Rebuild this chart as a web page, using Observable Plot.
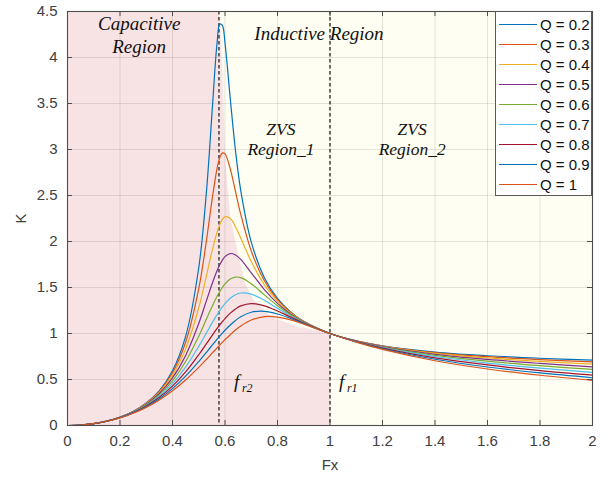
<!DOCTYPE html>
<html>
<head>
<meta charset="utf-8">
<script src="https://cdn.jsdelivr.net/npm/d3@7"></script>
<script src="https://cdn.jsdelivr.net/npm/@observablehq/plot@0.6"></script>
<style>
  body { margin: 0; background: white; }
  #wrap { position: relative; width: 615px; height: 479px; }
  #legend { position: absolute; left: 495px; top: 11px; width: 97px; box-sizing: border-box;
    background: white; border: 1px solid #5a5a5a; padding: 2px 0 1px 0;
    font-family: "Liberation Sans", Arial, sans-serif; font-size: 15px; color: #111; }
  .row { height: 20px; display: flex; align-items: center; }
  .sw { width: 38px; height: 0; border-top: 1.5px solid; margin-left: 3px; margin-right: 3px; }
</style>
</head>
<body>
<div id="wrap"><div id="chart"></div><div id="legend"></div></div>
<script>
// ---- data ----
const qLabels = ["Q = 0.2","Q = 0.3","Q = 0.4","Q = 0.5","Q = 0.6","Q = 0.7","Q = 0.8","Q = 0.9","Q = 1"];
const qColors = ["#0072BD","#D95319","#EDB120","#7E2F8E","#77AC30","#4DBEEE","#A2142F","#0072BD","#D95319"];
const fx = [0, 0.05, 0.1, 0.15, 0.2, 0.25, 0.3, 0.35, 0.4, 0.45, 0.5, 0.53, 0.55, 0.57, 0.58, 0.59, 0.6, 0.62, 0.64, 0.66, 0.7, 0.75, 0.8, 0.85, 0.9, 1.0, 1.1, 1.2, 1.4, 1.6, 1.8, 2.0];
const kQ02 = [0, 0.005, 0.021, 0.048, 0.091, 0.153, 0.244, 0.380, 0.596, 0.969, 1.715, 2.565, 3.376, 4.166, 4.363, 4.349, 4.158, 3.554, 2.987, 2.554, 1.995, 1.607, 1.381, 1.234, 1.132, 1, 0.920, 0.866, 0.798, 0.758, 0.731, 0.711];
const kQ03 = [0, 0.005, 0.021, 0.048, 0.090, 0.152, 0.241, 0.372, 0.574, 0.905, 1.487, 2.024, 2.439, 2.798, 2.911, 2.963, 2.952, 2.790, 2.543, 2.295, 1.897, 1.573, 1.367, 1.229, 1.130, 1, 0.919, 0.864, 0.793, 0.748, 0.716, 0.691];
const kQ04 = [0, 0.005, 0.021, 0.048, 0.090, 0.150, 0.236, 0.361, 0.547, 0.833, 1.280, 1.638, 1.887, 2.104, 2.184, 2.240, 2.268, 2.251, 2.161, 2.037, 1.782, 1.529, 1.350, 1.222, 1.128, 1, 0.918, 0.861, 0.784, 0.734, 0.697, 0.667];
const kQ05 = [0, 0.005, 0.021, 0.048, 0.089, 0.148, 0.231, 0.348, 0.517, 0.762, 1.109, 1.363, 1.533, 1.685, 1.748, 1.798, 1.836, 1.869, 1.854, 1.805, 1.660, 1.477, 1.328, 1.213, 1.125, 1, 0.917, 0.857, 0.774, 0.718, 0.675, 0.638];
const kQ06 = [0, 0.005, 0.020, 0.047, 0.088, 0.145, 0.225, 0.335, 0.486, 0.695, 0.971, 1.162, 1.288, 1.405, 1.456, 1.502, 1.539, 1.592, 1.613, 1.607, 1.541, 1.420, 1.302, 1.203, 1.121, 1, 0.915, 0.852, 0.763, 0.699, 0.650, 0.609];
const kQ07 = [0, 0.005, 0.020, 0.047, 0.087, 0.143, 0.218, 0.320, 0.456, 0.635, 0.860, 1.010, 1.110, 1.205, 1.248, 1.289, 1.325, 1.383, 1.421, 1.440, 1.428, 1.361, 1.274, 1.191, 1.117, 1, 0.913, 0.847, 0.750, 0.679, 0.624, 0.578];
const kQ08 = [0, 0.005, 0.020, 0.047, 0.086, 0.140, 0.212, 0.306, 0.428, 0.582, 0.769, 0.892, 0.975, 1.055, 1.092, 1.128, 1.162, 1.221, 1.267, 1.300, 1.325, 1.301, 1.244, 1.178, 1.113, 1, 0.911, 0.841, 0.735, 0.658, 0.597, 0.548];
const kQ09 = [0, 0.005, 0.020, 0.046, 0.085, 0.137, 0.205, 0.292, 0.401, 0.536, 0.695, 0.798, 0.868, 0.938, 0.971, 1.004, 1.035, 1.092, 1.142, 1.182, 1.231, 1.241, 1.212, 1.163, 1.108, 1, 0.909, 0.834, 0.720, 0.636, 0.571, 0.519];
const kQ10 = [0, 0.005, 0.020, 0.046, 0.083, 0.133, 0.197, 0.278, 0.377, 0.495, 0.632, 0.722, 0.783, 0.844, 0.874, 0.904, 0.932, 0.987, 1.038, 1.081, 1.146, 1.184, 1.179, 1.148, 1.102, 1, 0.906, 0.827, 0.704, 0.614, 0.546, 0.491];
const series = [kQ02, kQ03, kQ04, kQ05, kQ06, kQ07, kQ08, kQ09, kQ10];

const xTicks = [0, 0.2, 0.4, 0.6, 0.8, 1, 1.2, 1.4, 1.6, 1.8, 2];
const yTicks = [0, 0.5, 1, 1.5, 2, 2.5, 3, 3.5, 4, 4.5];
const resonantFx = [0.577, 1];
const capacitiveSpan = [0, 0.577];
const boundaryFx = [0.577, 0.585, 0.595, 0.603, 0.622, 0.649, 0.679, 0.71, 0.78, 0.88, 1];
const boundaryK  = [4.5, 4.3, 3.6, 2.88, 2.26, 1.9, 1.54, 1.36, 1.17, 1.07, 1];
const regionLabels = [
  {x: 0.273, y: 4.054, text: "Capacitive\nRegion"},
  {x: 0.958, y: 4.185, text: "Inductive Region"}
];
const zvsLabels = [
  {x: 0.813, y: 2.935, text: "ZVS\nRegion_1"},
  {x: 1.313, y: 2.935, text: "ZVS\nRegion_2"}
];
const freqLabels = [
  {x: 0.634, y: 0.41, main: "f", sub: "r2"},
  {x: 1.034, y: 0.41, main: "f", sub: "r1"}
];

// ---- build tables ----
const curveData = series.flatMap((ks, i) => fx.map((x, j) => ({x, k: ks[j], q: qLabels[i]})));
const boundary = boundaryFx.map((x, i) => ({x, y: boundaryK[i]}));

const pink = "#f8e3e4", yellow = "#fefef2";
const innerH = 479 - 11 - 54, innerW = 615 - 67 - 23;
const fmt = d3.format("~g");
const serif = "'Liberation Serif', 'Times New Roman', serif";

const chart = Plot.plot({
  width: 615, height: 479,
  marginLeft: 67, marginRight: 23, marginTop: 11, marginBottom: 54,
  x: {domain: [0, 2]},
  y: {domain: [0, 4.5]},
  color: {domain: qLabels, range: qColors},
  style: {fontFamily: "'Liberation Sans', Arial, sans-serif", fontSize: "15px", color: "#404040", background: "white"},
  marks: [
    Plot.frame({fill: yellow}),
    Plot.rect([capacitiveSpan], {x1: d => d[0], x2: d => d[1], fill: pink}),
    Plot.areaY(boundary, {x: "x", y: "y", fill: pink}),
    Plot.gridX(xTicks, {stroke: "#262626", strokeOpacity: 0.12}),
    Plot.gridY(yTicks, {stroke: "#262626", strokeOpacity: 0.12}),
    Plot.ruleX(resonantFx, {stroke: "black", strokeDasharray: "3.5,2.5", strokeWidth: 1.1}),
    Plot.line(curveData, {x: "x", y: "k", z: "q", stroke: "q", curve: "catmull-rom", strokeWidth: 1.2}),
    Plot.text(regionLabels, {x: "x", y: "y", text: "text", fontSize: 19, lineHeight: 1.21,
      fontFamily: serif, fontStyle: "italic", fill: "#111", lineAnchor: "bottom", textAnchor: "middle"}),
    Plot.text(zvsLabels, {x: "x", y: "y", text: "text", fontSize: 17.5, lineHeight: 1.15,
      fontFamily: serif, fontStyle: "italic", fill: "#111", lineAnchor: "bottom", textAnchor: "middle"}),
    Plot.text(freqLabels, {x: "x", y: "y", text: "main", fontSize: 19, fontFamily: serif, fontStyle: "italic", fill: "#111", lineAnchor: "bottom", textAnchor: "start"}),
    Plot.text(freqLabels, {x: "x", y: "y", text: "sub", dx: 8, dy: 4, fontSize: 12, fontFamily: serif, fontStyle: "italic", fill: "#111", lineAnchor: "bottom", textAnchor: "start"}),
    Plot.frame({stroke: "#4d4d4d", strokeWidth: 1.1}),
    Plot.tickX(xTicks, {x: d => d, insetTop: innerH - 5, stroke: "#4d4d4d"}),
    Plot.tickX(xTicks, {x: d => d, insetBottom: innerH - 5, stroke: "#4d4d4d"}),
    Plot.tickY(yTicks, {y: d => d, insetRight: innerW - 5, stroke: "#4d4d4d"}),
    Plot.tickY(yTicks, {y: d => d, insetLeft: innerW - 5, stroke: "#4d4d4d"}),
    Plot.axisX(xTicks, {tickSize: 0, tickPadding: 10, tickFormat: fmt, label: "Fx", labelAnchor: "center", labelOffset: 44, labelArrow: "none", fill: "#404040"}),
    Plot.axisY(yTicks, {tickSize: 0, tickPadding: 10, tickFormat: fmt, label: "K", labelAnchor: "center", labelOffset: 52, labelArrow: "none", fill: "#404040"})
  ]
});
document.getElementById("chart").appendChild(chart);

const legend = document.getElementById("legend");
qLabels.forEach((q, i) => {
  const row = document.createElement("div");
  row.className = "row";
  row.innerHTML = `<span class="sw" style="border-color:${qColors[i]}"></span><span>${q}</span>`;
  legend.appendChild(row);
});
</script>
</body>
</html>
